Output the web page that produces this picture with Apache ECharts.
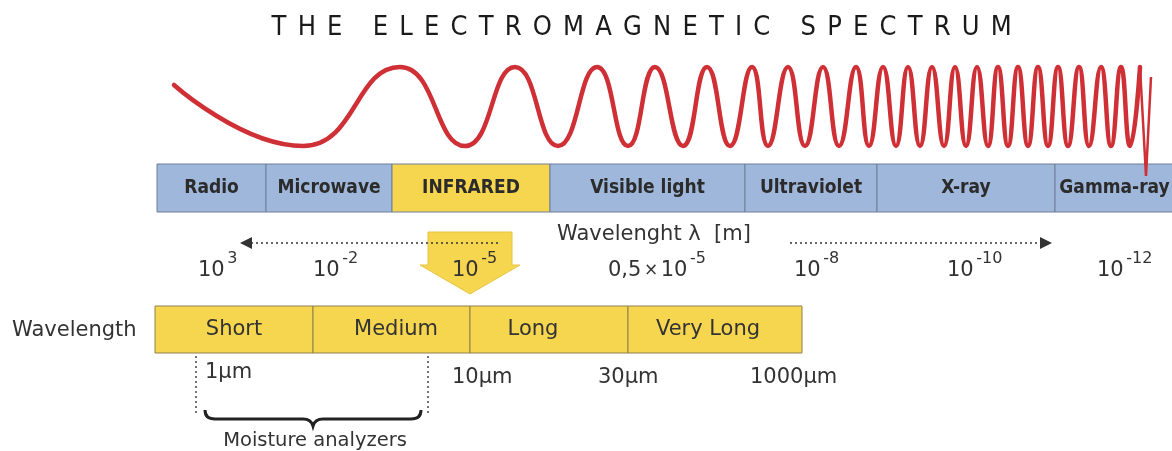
<!DOCTYPE html>
<html>
<head>
<meta charset="utf-8">
<script src="https://cdn.jsdelivr.net/npm/echarts@6/dist/echarts.min.js"></script>
<style>
  html, body { margin: 0; padding: 0; background: #fff; }
  #chart { width: 1172px; height: 451px; }
</style>
</head>
<body>
<div id="chart"></div>
<script>
// ---- data ----
const titleText = 'THE ELECTROMAGNETIC SPECTRUM';

const bandNames = ['Radio', 'Microwave', 'INFRARED', 'Visible light', 'Ultraviolet', 'X-ray', 'Gamma-ray'];
const bandEdges = [157, 266, 392, 550, 745, 877, 1055, 1174];
const bandHighlight = 'INFRARED';

// wave extrema (start point, then trough / peak alternately)
const waveX = [174, 303, 400, 465, 515, 558, 597, 628, 655, 683, 707, 730, 752, 768, 788, 805,
  823, 839, 856, 869, 883, 896, 908, 920, 932, 944, 955, 966, 977, 988, 998, 1008, 1018, 1028,
  1038, 1048, 1058, 1068, 1079, 1089, 1101, 1111, 1121, 1130, 1140];
const waveY = [85, 146, 67, 146, 67, 146, 67, 146, 67, 146, 67, 146, 67, 146, 67, 146,
  67, 146, 67, 146, 67, 146, 67, 146, 67, 146, 67, 146, 67, 146, 67, 146, 67, 146,
  67, 146, 67, 146, 67, 146, 67, 146, 67, 146, 67];
const spikeX = [1140, 1146, 1151];
const spikeY = [67, 176, 77];

const scalePrefix = ['', '', '', '0,5', '', '', ''];
const scaleBase = ['10', '10', '10', '10', '10', '10', '10'];
const scaleExp = ['3', '-2', '-5', '-5', '-8', '-10', '-12'];

const subNames = ['Short', 'Medium', 'Long', 'Very Long'];
const subEdges = [155, 313, 470, 628, 802];

const micronLabels = ['1μm', '10μm', '30μm', '1000μm'];

// ---- layout ----
const scaleX = [198, 313, 452, 608, 794, 947, 1097];
const scaleY = 271;
const subLabelX = [234, 396, 533, 708];
const micronX = [205, 452, 598, 750];
const micronY = [373, 378, 378, 378];
const bandTop = 164, bandBottom = 212;
const subTop = 306, subBottom = 353;

const FONT = 'DejaVu Sans';
const INK = '#333333';
const BLUE = '#9fb7da';
const YELLOW = '#f6d54f';

const chart = echarts.init(document.getElementById('chart'));

function box(api, x0, y0, x1, y1, style) {
  const a = api.coord([x0, y0]);
  const b = api.coord([x1, y1]);
  return { type: 'rect', shape: { x: a[0], y: a[1], width: b[0] - a[0], height: b[1] - a[1] }, style: style };
}

function label(api, x, y, text, style) {
  const p = api.coord([x, y]);
  return { type: 'text', x: p[0], y: p[1], style: Object.assign({ text: text, fill: INK, fontFamily: FONT, fontSize: 21 }, style) };
}

const richScale = {
  b: { fontSize: 21, fontFamily: FONT, color: INK, lineHeight: 40 },
  x: { fontSize: 17, fontFamily: FONT, color: INK, lineHeight: 36 },
  g: { fontSize: 8, fontFamily: FONT },
  s: { fontSize: 16, fontFamily: FONT, color: INK, lineHeight: 14, verticalAlign: 'top' }
};

// spaced-out title: one rich token per letter
const spacedTitle = titleText.split(' ').map(w => w.split('').map(ch => '{c|' + ch + '}').join('')).join('{w| }');

chart.setOption({
  animation: false,
  title: {
    text: spacedTitle,
    left: 261,
    top: 9,
    textStyle: {
      fontWeight: 'normal',
      rich: {
        c: { fontFamily: 'DejaVu Sans Condensed', fontWeight: 'normal', fontSize: 27, color: '#1a1a1a', padding: [0, 5.6, 0, 5.6] },
        w: { fontFamily: 'DejaVu Sans Condensed', fontWeight: 'normal', fontSize: 27, width: 19 }
      }
    }
  },
  grid: { left: 0, right: 0, top: 0, bottom: 0 },
  xAxis: { type: 'value', min: 0, max: 1172, show: false },
  yAxis: { type: 'value', min: 0, max: 451, inverse: true, show: false },
  series: [
    {
      // spectrum band bar
      type: 'custom',
      z: 2,
      data: bandNames.map((n, i) => [bandEdges[i], bandEdges[i + 1]]),
      renderItem: (params, api) => {
        const i = params.dataIndex;
        const x0 = bandEdges[i], x1 = bandEdges[i + 1];
        return {
          type: 'group',
          children: [
            box(api, x0, bandTop, x1, bandBottom, {
              fill: bandNames[i] === bandHighlight ? YELLOW : BLUE, stroke: '#6e7f99', lineWidth: 1
            }),
            label(api, (x0 + x1) / 2, (bandTop + bandBottom) / 2, bandNames[i], {
              fontFamily: 'DejaVu Sans Condensed', fontWeight: 'bold', fontSize: 19, fill: '#2b2b2b',
              align: 'center', verticalAlign: 'middle'
            })
          ]
        };
      }
    },
    {
      // the wave
      type: 'line',
      z: 4,
      data: waveX.map((x, i) => [x, waveY[i]]),
      smooth: 0.5,
      showSymbol: false,
      silent: true,
      lineStyle: { color: '#cf3036', width: 4.5, cap: 'round' }
    },
    {
      type: 'line',
      z: 4,
      data: spikeX.map((x, i) => [x, spikeY[i]]),
      showSymbol: false,
      silent: true,
      lineStyle: { color: '#cf3036', width: 2.5 }
    },
    {
      // big yellow arrow pointing down from INFRARED
      type: 'custom',
      z: 2,
      data: [[470]],
      renderItem: (params, api) => {
        const pts = [[428, 232], [512, 232], [512, 265], [520, 265], [470, 294], [420, 265], [428, 265]];
        return {
          type: 'polygon',
          shape: { points: pts.map(p => api.coord(p)) },
          style: { fill: YELLOW, stroke: '#e6c443', lineWidth: 1 }
        };
      }
    },
    {
      // dotted direction arrows
      type: 'lines',
      coordinateSystem: 'cartesian2d',
      z: 5,
      symbol: ['none', 'triangle'],
      symbolSize: [10, 12],
      lineStyle: { color: '#333', width: 1.5, type: [2, 3], opacity: 1 },
      data: [
        { coords: [[498, 243], [246, 243]] },
        { coords: [[790, 243], [1046, 243]] }
      ]
    },
    {
      // wavelength scale labels
      type: 'custom',
      z: 6,
      data: scaleBase.map((b, i) => [scaleX[i]]),
      renderItem: (params, api) => {
        const i = params.dataIndex;
        const txt = (scalePrefix[i] ? '{b|' + scalePrefix[i] + '}{g| }{x|×}{g| }' : '') +
          '{b|' + scaleBase[i] + '}{g| }{s|' + scaleExp[i] + '}';
        return label(api, scaleX[i], scaleY, txt, { rich: richScale, align: 'left', verticalAlign: 'middle' });
      }
    },
    {
      // sub division bar of infrared
      type: 'custom',
      z: 2,
      data: subNames.map((n, i) => [subEdges[i], subEdges[i + 1]]),
      renderItem: (params, api) => {
        const i = params.dataIndex;
        return {
          type: 'group',
          children: [
            box(api, subEdges[i], subTop, subEdges[i + 1], subBottom, { fill: YELLOW, stroke: '#8f8150', lineWidth: 1 }),
            label(api, subLabelX[i], (subTop + subBottom) / 2, subNames[i], { align: 'center', verticalAlign: 'middle' })
          ]
        };
      }
    },
    {
      // other texts, dotted guides and brace
      type: 'custom',
      z: 6,
      data: [[0]],
      renderItem: (params, api) => {
        const c = p => api.coord(p);
        const children = [
          label(api, 654, 235, 'Wavelenght λ  [m]', { align: 'center', verticalAlign: 'middle' }),
          label(api, 12, 331, 'Wavelength', { align: 'left', verticalAlign: 'middle' }),
          label(api, 315, 441, 'Moisture analyzers', { align: 'center', verticalAlign: 'middle', fontSize: 19.5 })
        ];
        micronLabels.forEach((t, i) => {
          children.push(label(api, micronX[i], micronY[i], t, { align: 'left', verticalAlign: 'middle' }));
        });
        [196, 428].forEach(x => {
          const a = c([x, 356]), b = c([x, 415]);
          children.push({
            type: 'line',
            shape: { x1: a[0], y1: a[1], x2: b[0], y2: b[1] },
            style: { stroke: '#444', lineWidth: 1.5, lineDash: [2, 3] }
          });
        });
        const q = (x, y) => c([x, y]).join(' ');
        const d = 'M ' + q(205, 410) + ' Q ' + q(205, 419) + ' ' + q(215, 419) + ' L ' + q(303, 419) +
          ' Q ' + q(311, 419) + ' ' + q(313, 426) + ' Q ' + q(315, 419) + ' ' + q(323, 419) +
          ' L ' + q(411, 419) + ' Q ' + q(421, 419) + ' ' + q(421, 410);
        children.push({
          type: 'path',
          shape: { pathData: d },
          style: { fill: 'none', stroke: '#222', lineWidth: 3 }
        });
        return { type: 'group', children: children };
      }
    }
  ]
});
</script>
</body>
</html>
